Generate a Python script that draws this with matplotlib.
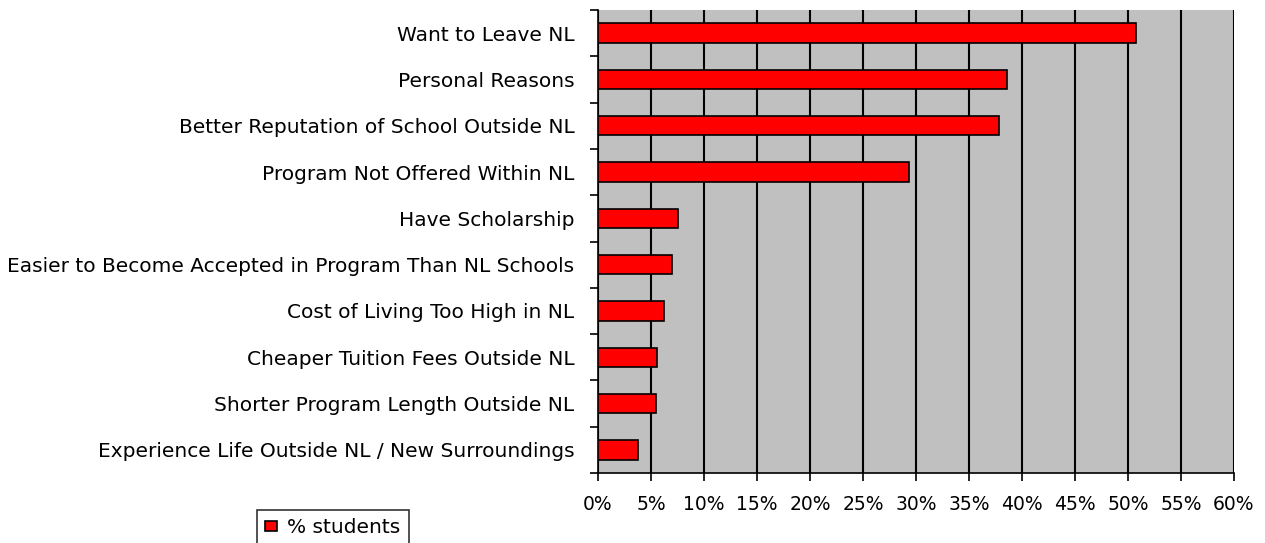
import matplotlib
matplotlib.use("Agg")
import matplotlib.pyplot as plt
from matplotlib.patches import Patch
import numpy as np

categories = [
    "Want to Leave NL",
    "Personal Reasons",
    "Better Reputation of School Outside NL",
    "Program Not Offered Within NL",
    "Have Scholarship",
    "Easier to Become Accepted in Program Than NL Schools",
    "Cost of Living Too High in NL",
    "Cheaper Tuition Fees Outside NL",
    "Shorter Program Length Outside NL",
    "Experience Life Outside NL / New Surroundings",
]
values = [50.8, 38.6, 37.8, 29.3, 7.5, 6.95, 6.2, 5.6, 5.5, 3.75]
xticks = list(range(0, 65, 5))
xticklabels = [f"{t}%" for t in xticks]
series_name = "% students"

plt.rcParams['font.family'] = ['DejaVu Sans']

fig = plt.figure(figsize=(12.65, 5.43), dpi=100)
ax = fig.add_axes([598/1265, 1 - 473/543, (1234 - 598)/1265, (473 - 10)/543])
ax.set_facecolor('#C0C0C0')

n = len(categories)
pos = np.arange(n)
ax.barh(pos, values, height=0.42, color='#FF0000', edgecolor='black', linewidth=1.2, zorder=3)
ax.set_ylim(n - 0.5, -0.5)
ax.set_xlim(0, 60)

ax.set_xticks(xticks)
ax.set_xticklabels(xticklabels, fontsize=13.5)
ax.tick_params(axis='x', direction='out', length=6, width=1.2, pad=10)
ax.xaxis.grid(True, color='black', linewidth=1.5, zorder=1)

ax.set_yticks(pos)
ax.set_yticklabels(categories, fontsize=14.5)
ax.tick_params(axis='y', which='major', length=0, pad=17)
ax.set_yticks(np.arange(-0.5, n + 0.5, 1), minor=True)
ax.tick_params(axis='y', which='minor', direction='out', length=6, width=1.2)

for s in ['top', 'right']:
    ax.spines[s].set_visible(False)
for s in ['left', 'bottom']:
    ax.spines[s].set_linewidth(1.2)

handle = Patch(facecolor='#FF0000', edgecolor='black', linewidth=1.2)
leg = fig.legend([handle], [series_name], loc='upper left',
                 bbox_to_anchor=(257/1265, 1 - 510/543), fontsize=14.5,
                 frameon=True, fancybox=False, edgecolor='black',
                 handlelength=0.6, handleheight=0.4, handletextpad=0.5,
                 borderpad=0.4, borderaxespad=0)
leg.get_frame().set_linewidth(1.2)

fig.savefig("out.png", dpi=100, facecolor='white')
